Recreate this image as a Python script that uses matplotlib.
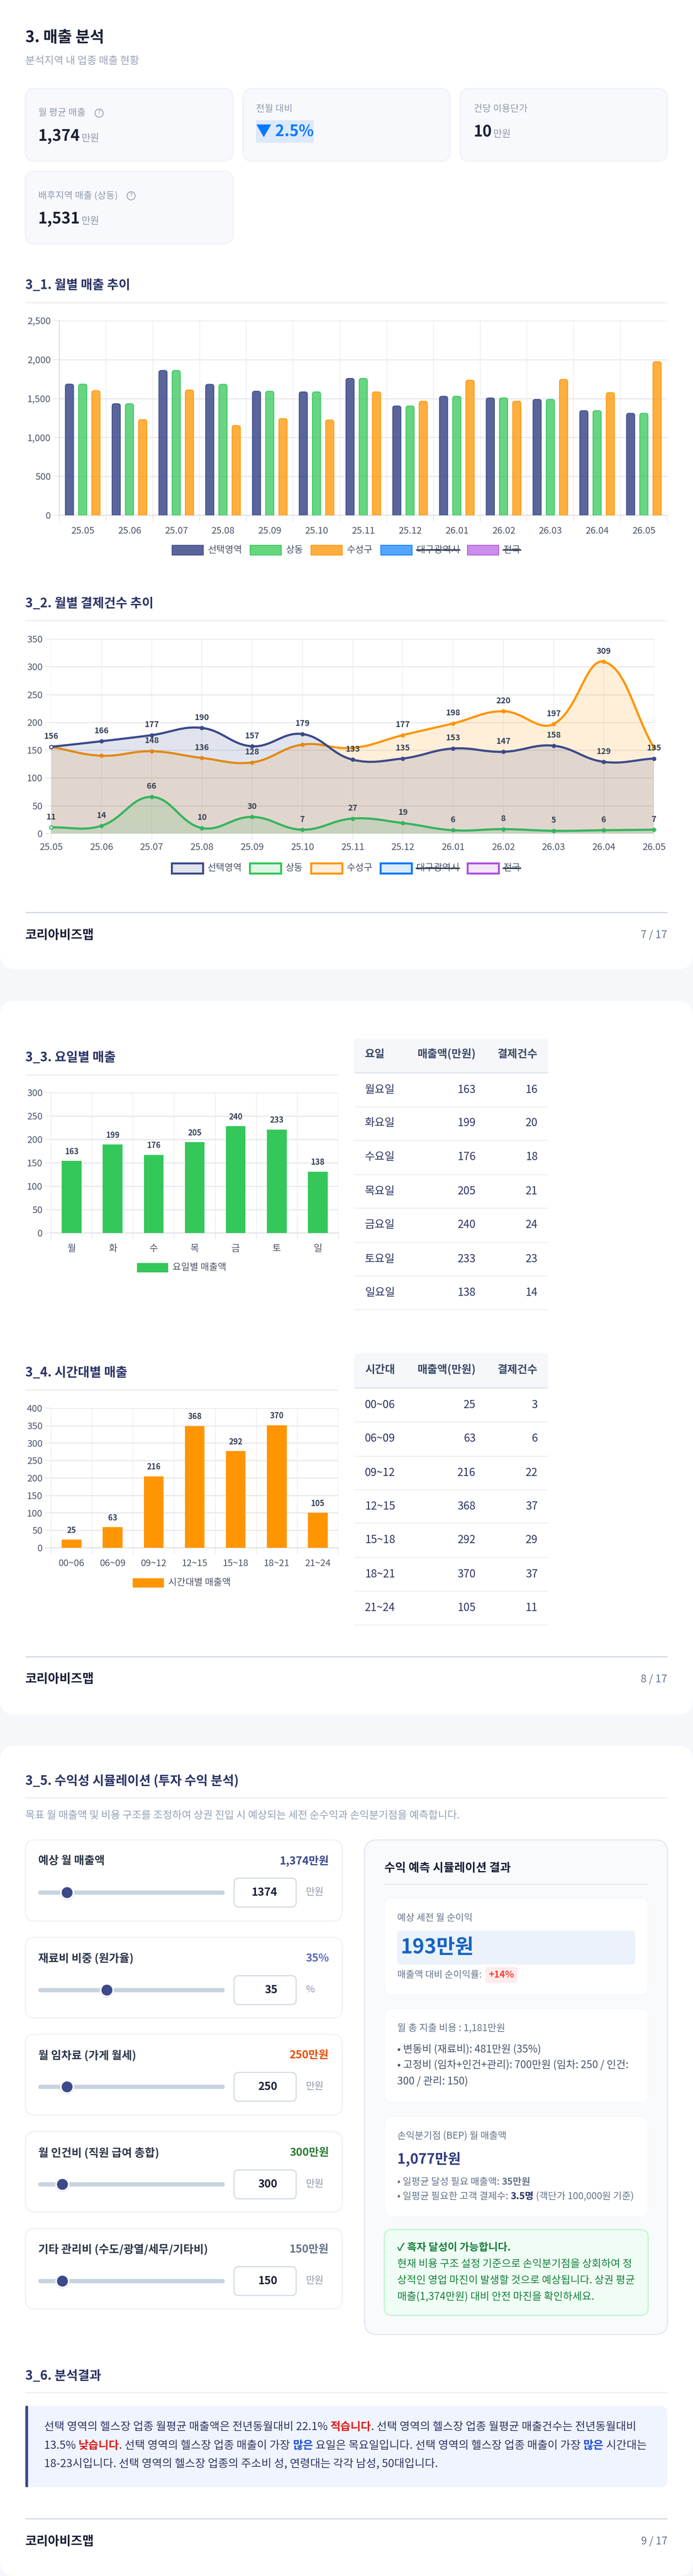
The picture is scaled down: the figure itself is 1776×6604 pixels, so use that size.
#!/usr/bin/python3

import matplotlib
matplotlib.use('Agg')

import matplotlib.pyplot as plt
import numpy as np
from matplotlib.patches import Circle, FancyBboxPatch, PathPatch, Rectangle
from matplotlib.path import Path

plt.rcParams['font.family'] = ['Noto Sans CJK KR', 'DejaVu Sans']

W, H = 1776, 6604

# ---- data
months = ['25.05', '25.06', '25.07', '25.08', '25.09', '25.10', '25.11',
          '25.12', '26.01', '26.02', '26.03', '26.04', '26.05']
sales_area = [1685, 1433, 1860, 1682, 1593, 1585, 1758, 1404, 1528, 1507, 1488, 1344, 1310]
sales_dong = [1685, 1433, 1860, 1682, 1593, 1585, 1758, 1404, 1528, 1507, 1488, 1344, 1310]
sales_gu = [1601, 1229, 1609, 1153, 1242, 1224, 1585, 1465, 1735, 1465, 1745, 1575, 1973]

tx_area = [156, 166, 177, 190, 157, 179, 133, 135, 153, 147, 158, 129, 135]
tx_dong = [11, 14, 66, 10, 30, 7, 27, 19, 6, 8, 5, 6, 7]
tx_gu = [156, 140, 148, 136, 128, 160, 154, 177, 198, 220, 197, 309, 154]
# the labels of the third series that are actually shown
tx_gu_shown = [None, None, 148, 136, 128, None, None, 177, 198, 220, 197, 309, None]

legend_names = ['선택영역', '상동', '수성구', '대구광역시', '전국']
legend_colors = ['#3C4A8A', '#34C759', '#FF9500', '#007AFF', '#AF52DE']

days = ['월', '화', '수', '목', '금', '토', '일']
day_names = ['월요일', '화요일', '수요일', '목요일', '금요일', '토요일', '일요일']
day_sales = [163, 199, 176, 205, 240, 233, 138]
day_bars = [154, 189, 167, 194, 228, 221, 131]  # bars stop short of their labels in the picture
day_count = [16, 20, 18, 21, 24, 23, 14]

hours = ['00~06', '06~09', '09~12', '12~15', '15~18', '18~21', '21~24']
hour_sales = [25, 63, 216, 368, 292, 370, 105]
hour_bars = [23, 59, 205, 349, 277, 351, 100]
hour_count = [3, 6, 22, 37, 29, 37, 11]

NAVY = '#3C4A8A'
INK = '#1A2035'
HEAD = '#2B3467'
GREY = '#8F98AB'
RULE = '#F0F1F6'
GRID = '#E9E9ED'

fig = plt.figure(figsize=(W / 100, H / 100), dpi=100, facecolor='#F5F7FB')
page = fig.add_axes([0, 0, 1, 1])
page.set_xlim(0, W)
page.set_ylim(H, 0)
page.axis('off')
renderer = fig.canvas.get_renderer()


def pt(px):
    return px * 0.72


def box(x0, y0, x1, y1, r=0, fc='white', ec='none', lw=0, z=1):
    if r:
        p = FancyBboxPatch((x0, y0), x1 - x0, y1 - y0, boxstyle='round,pad=0,rounding_size={}'.format(r),
                           fc=fc, ec=ec, lw=pt(lw), zorder=z)
    else:
        p = Rectangle((x0, y0), x1 - x0, y1 - y0, fc=fc, ec=ec, lw=pt(lw), zorder=z)
    page.add_patch(p)


def txt(x, y, s, px, color=INK, bold=False, ha='left', z=5):
    return page.text(x, y, s, fontsize=pt(px), color=color, ha=ha, va='center',
                     fontweight='bold' if bold else 'normal', zorder=z)


def width(s, px, bold=False):
    # dots on both sides so that leading and trailing spaces are counted
    a = txt(0, 0, '.' + s + '.', px, bold=bold)
    b = txt(0, 0, '..', px, bold=bold)
    w = a.get_window_extent(renderer).width - b.get_window_extent(renderer).width
    a.remove()
    b.remove()
    return w


def rich(x, y, parts, px):
    for s, color, bold in parts:
        txt(x, y, s, px, color, bold)
        x += width(s, px, bold)
    return x


def rule(y, x0=65, x1=1710, color=RULE, lw=4):
    page.plot([x0, x1], [y, y], color=color, lw=pt(lw), solid_capstyle='butt', zorder=3)


def footer(y_rule, y_text, label):
    rule(y_rule, color='#D0D7E5', lw=3)
    txt(65, y_text, '코리아비즈맵', 32, INK, True)
    txt(1710, y_text, label, 27, '#64748B', ha='right')


def axes_px(x0, y0, x1, y1):
    ax = fig.add_axes([x0 / W, 1 - y1 / H, (x1 - x0) / W, (y1 - y0) / H])
    ax.patch.set_alpha(0)
    ax.set_zorder(2)
    ax.set_axisbelow(True)
    for side in ('top', 'right'):
        ax.spines[side].set_visible(False)
    for side in ('left', 'bottom'):
        ax.spines[side].set_color('#DDDDE2')
        ax.spines[side].set_linewidth(pt(2.5))
    ax.grid(axis='y', color=GRID, lw=pt(3))
    ax.grid(axis='x', color='#ECECF0', lw=pt(1.6))
    ax.tick_params(axis='both', which='major', length=pt(16), width=pt(2), color=GRID,
                   labelsize=pt(24), labelcolor='#4A5568')
    ax.tick_params(axis='y', pad=pt(6))
    return ax


def category_axis(ax, labels):
    # gridlines sit between the categories, labels in the middle
    n = len(labels)
    ax.set_xlim(-0.5, n - 0.5)
    ax.set_xticks(np.arange(n + 1) - 0.5)
    ax.set_xticklabels([])
    ax.set_xticks(np.arange(n), labels, minor=True)
    ax.tick_params(axis='x', which='minor', length=0, pad=pt(29), labelsize=pt(24), labelcolor='#4A5568')


def legend_row(xs, ys, ws, names, colors, fills, edge, strike):
    for x, w, name, color, fill, crossed in zip(xs, ws, names, colors, fills, strike):
        box(x, ys[0], x + 80, ys[1], fc=fill, ec=color, lw=edge, z=3)
        tx = x + 92
        txt(tx, (ys[0] + ys[1]) / 2, name, 24, '#4A5568')
        if crossed:
            y = (ys[0] + ys[1]) / 2
            page.plot([tx, tx + w], [y, y], color='#2F3B52', lw=pt(3.5), zorder=6)


def round_top(ax, x0, x1, h, r_x, r_y, **kw):
    verts = [(x0, 0), (x0, h - r_y), (x0, h), (x0 + r_x, h), (x1 - r_x, h), (x1, h), (x1, h - r_y), (x1, 0), (x0, 0)]
    codes = [Path.MOVETO, Path.LINETO, Path.CURVE3, Path.CURVE3, Path.LINETO, Path.CURVE3, Path.CURVE3,
             Path.LINETO, Path.CLOSEPOLY]
    ax.add_patch(PathPatch(Path(verts, codes), **kw))


def spline(xs, ys, sx, sy, tension=0.4):
    # chart.js style control points, worked out in pixel space
    px = np.column_stack([np.asarray(xs, float) * sx, np.asarray(ys, float) * sy])
    n = len(px)
    verts = [px[0]]
    codes = [Path.MOVETO]
    before, after = [], []
    for i in range(n):
        a = px[max(i - 1, 0)]
        b = px[i]
        c = px[min(i + 1, n - 1)]
        d01 = np.hypot(*(b - a))
        d12 = np.hypot(*(c - b))
        total = d01 + d12
        before.append(b - tension * d01 / total * (c - a))
        after.append(b + tension * d12 / total * (c - a))
    for i in range(n - 1):
        verts += [after[i], before[i + 1], px[i + 1]]
        codes += [Path.CURVE4] * 3
    verts = np.array(verts) / [sx, sy]
    verts[:, 1] = np.clip(verts[:, 1], 0, None)
    return verts, codes


# ---- page cards
box(0, -60, W, 2485, 40)
box(0, 2566, W, 4396, 40)
box(0, 4475, W, 6604, 40)

# ---- page 7: header and kpi cards
txt(65, 97, '3. 매출 분석', 40, INK, True)
txt(65, 156, '분석지역 내 업종 매출 현황', 26.5, '#9AA3B5')

CARD = '#F8F9FD'
for x0, x1, y0, y1 in [(65, 597, 227, 413), (623, 1153, 227, 413), (1179, 1710, 227, 413), (65, 597, 439, 625)]:
    box(x0, y0, x1, y1, 24, CARD, RULE, 3)


def kpi(x, y_label, y_value, label, value, unit, help_x=None):
    txt(x, y_label, label, 24, GREY)
    if help_x:
        page.add_patch(Circle((help_x, y_label + 1), 10.5, fc='none', ec=GREY, lw=pt(2), zorder=5))
        txt(help_x, y_label, '?', 15, GREY, ha='center')
    end = x + width(value, 40, True)
    txt(x, y_value, value, 40, INK, True)
    txt(end + 3, y_value + 5, unit, 25, GREY)


kpi(98, 289, 350, '월 평균 매출', '1,374', '만원', 254)
kpi(1214, 279, 339, '건당 이용단가', '10', '만원')
kpi(98, 501, 562, '배후지역 매출 (상동)', '1,531', '만원', 336)
txt(656, 279, '전월 대비', 24, GREY)
box(656, 308, 804, 366, fc='#DDE9FB', z=3)
txt(656, 338, '▼ 2.5%', 40, '#007AFF', True)

# ---- 3_1
txt(65, 732, '3_1. 월별 매출 추이', 32.5, HEAD, True)
rule(776)
ax = axes_px(152, 822, 1710, 1321)
category_axis(ax, months)
ax.get_xgridlines()[-1].set_visible(False)
ax.set_ylim(0, 2500)
ax.set_yticks([0, 500, 1000, 1500, 2000, 2500], ['0', '500', '1,000', '1,500', '2,000', '2,500'])
bar_w = 0.175
for values, off, color, alpha in [(sales_area, -0.283, NAVY, 0.85), (sales_dong, 0, '#34C759', 0.75),
                                  (sales_gu, 0.283, '#FF9500', 0.75)]:
    for i, v in enumerate(values):
        face = matplotlib.colors.to_rgba(color, alpha)
        round_top(ax, i + off - bar_w / 2, i + off + bar_w / 2, v, 0.05, 30,
                  fc=face, ec=color, lw=pt(2), zorder=3)
legend_row([441, 641, 797, 976, 1198], (1398, 1423), [110, 0, 0, 110, 44], legend_names, legend_colors,
           ['#5A659B', '#66D57E', '#FFAD3E', '#55A5FF', '#CB8EEA'], 2, [False, False, False, True, True])

# ---- 3_2
txt(65, 1548, '3_2. 월별 결제건수 추이', 32.5, HEAD, True)
rule(1591)
ax = axes_px(131, 1638, 1676, 2137)
ax.set_xlim(0, 12)
ax.set_ylim(0, 350)
ax.set_xticks(np.arange(13), months)
ax.set_yticks(np.arange(0, 351, 50))
ax.tick_params(axis='x', pad=pt(8))
ax.spines['bottom'].set_visible(False)
ax.spines['left'].set_visible(False)
sx = 1545 / 12
sy = 499 / 350
x = np.arange(13)
for values, color, z in [(tx_gu, '#FF9500', 3), (tx_dong, '#34C759', 4), (tx_area, NAVY, 5)]:
    verts, codes = spline(x, values, sx, sy)
    outline = np.vstack([verts, [[12, 0], [0, 0], verts[0]]])
    fill_codes = codes + [Path.LINETO, Path.LINETO, Path.CLOSEPOLY]
    ax.add_patch(PathPatch(Path(outline, fill_codes), fc=matplotlib.colors.to_rgba(color, 0.15), ec='none', zorder=z))
    ax.add_patch(PathPatch(Path(verts, codes), fc='none', ec=color, lw=pt(5.5), zorder=z))
    ax.plot(x[1:], values[1:], 'o', ms=pt(11), color=color, mec='none', zorder=z, clip_on=False)
    ax.plot(x[:1], values[:1], 'o', ms=pt(9), mfc='#EEF0F7', mec=color, mew=pt(2.5), zorder=z + 0.5, clip_on=False)

for values, z in [(tx_gu_shown, 8), (tx_dong, 8), (tx_area, 8)]:
    for i, v in enumerate(values):
        if v is None:
            continue
        ax.annotate(str(v), (i, v), xytext=(0, pt(27)), textcoords='offset points', ha='center', va='center',
                    fontsize=pt(21), fontweight='bold', color='#364258', zorder=z, annotation_clip=False)
legend_row([440, 640, 797, 975, 1198], (2213, 2239), [110, 0, 0, 110, 44], legend_names, legend_colors,
           ['#E1E4EF', '#E0F6E5', '#FFF0DC', '#D9EBFF', '#F3E5FA'], 5, [False, False, False, True, True])
footer(2339, 2398, '7 / 17')

# ---- page 8: weekday and hour


def sales_table(y_head0, y_head1, y_texts, y_lines, y_htext, first_col, names, sales, counts):
    box(908, y_head0, 1405, y_head1, fc='#F5F7FA', z=2)
    rule(y_head1 + 2, 908, 1405, '#E2E8F0', 4)
    txt(935, y_htext, first_col, 28, '#3D4B68', True)
    txt(1219, y_htext, '매출액(만원)', 28, '#3D4B68', True, ha='right')
    txt(1378, y_htext, '결제건수', 28, '#3D4B68', True, ha='right')
    for y, y_line, name, s, c in zip(y_texts, y_lines, names, sales, counts):
        txt(935, y, name, 28, '#2D3561')
        txt(1219, y, str(s), 28, '#2D3561', ha='right')
        txt(1378, y, str(c), 28, '#2D3561', ha='right')
        rule(y_line, 908, 1405, RULE, 3)


def simple_bars(box_px, labels, bars, shown, color, ymax, step):
    ax = axes_px(*box_px)
    category_axis(ax, labels)
    ax.spines['left'].set_color('#ECECF0')
    ax.spines['left'].set_linewidth(pt(1.6))
    ax.set_ylim(0, ymax)
    ax.set_yticks(np.arange(0, ymax + 1, step))
    ax.bar(np.arange(len(bars)), bars, width=0.48, color=color, zorder=3)
    for i, (b, s) in enumerate(zip(bars, shown)):
        ax.annotate(str(s), (i, b), xytext=(0, pt(24)), textcoords='offset points', ha='center', va='center',
                    fontsize=pt(20), fontweight='bold', color='#364258', zorder=8)


txt(65, 2712, '3_3. 요일별 매출', 32.5, HEAD, True)
rule(2756, 65, 867)
simple_bars((131, 2801, 867, 3161), days, day_bars, day_sales, '#34C759', 300, 50)
box(351, 3238, 431, 3262, fc='#34C759', z=3)
txt(442, 3250, '요일별 매출액', 24, '#4A5568')
sales_table(2662, 2748, [2794, 2879, 2966, 3054, 3140, 3228, 3314],
            [2837, 2923, 3011, 3097, 3185, 3271, 3357], 2703, '요일', day_names, day_sales, day_count)

txt(65, 3520, '3_4. 시간대별 매출', 32.5, HEAD, True)
rule(3564, 65, 867)
simple_bars((131, 3610, 867, 3968), hours, hour_bars, hour_sales, '#FF9500', 400, 50)
box(340, 4046, 420, 4070, fc='#FF9500', z=3)
txt(431, 4058, '시간대별 매출액', 24, '#4A5568')
sales_table(3470, 3556, [3602, 3688, 3776, 3862, 3948, 4036, 4122],
            [3645, 3733, 3819, 3904, 3992, 4079, 4165], 3512, '시간대', hours, hour_sales, hour_count)
footer(4247, 4305, '8 / 17')

# ---- page 9: simulation
txt(65, 4566, '3_5. 수익성 시뮬레이션 (투자 수익 분석)', 32.5, HEAD, True)
rule(4609)
txt(65, 4655, '목표 월 매출액 및 비용 구조를 조정하여 상권 진입 시 예상되는 세전 순수익과 손익분기점을 예측합니다.', 26.5, '#94A3B8')


def control(y0, y1, title, shown, shown_color, field, unit, thumb_x):
    box(65, y0, 877, y1, 24, 'white', RULE, 3)
    txt(98, y0 + 54, title, 28.5, '#2D3748', True)
    txt(843, y0 + 54, shown, 28, shown_color, True, ha='right')
    yc = y0 + 135
    box(98, yc - 5.5, 576, yc + 5.5, 5.5, '#C8D3E0', z=3)
    page.add_patch(Circle((thumb_x, yc + 1), 18.5, fc='#E4E7EE', ec='none', zorder=3))
    page.add_patch(Circle((thumb_x, yc), 17.5, fc='white', ec='none', zorder=4))
    page.add_patch(Circle((thumb_x, yc), 14, fc=NAVY, ec='none', zorder=5))
    box(600, yc - 37, 759, yc + 37, 12, 'white', '#CBD5E1', 2.5)
    txt(711, yc, field, 28, INK, True, ha='right')
    txt(784, yc - 1, unit, 25, GREY)


control(4717, 4925, '예상 월 매출액', '1,374만원', NAVY, '1374', '만원', 172)
control(4967, 5173, '재료비 비중 (원가율)', '35%', '#5C6BC0', '35', '%', 274)
control(5215, 5422, '월 임차료 (가게 월세)', '250만원', '#E65100', '250', '만원', 172)
control(5465, 5671, '월 인건비 (직원 급여 총합)', '300만원', '#2E7D32', '300', '만원', 160)
control(5713, 5919, '기타 관리비 (수도/광열/세무/기타비)', '150만원', '#64748B', '150', '만원', 160)

box(934, 4717, 1711, 5985, 32, '#F8FAFC', '#E2E8F0', 3)
txt(985, 4789, '수익 예측 시뮬레이션 결과', 30, INK, True)
rule(4831, 984, 1662, '#E2E8F0', 2.5)

box(985, 4866, 1661, 5114, 20, 'white', '#F4F6F9', 2, z=2)
txt(1018, 4917, '예상 세전 월 순이익', 24, '#64748B')
box(1018, 4950, 1628, 5036, 8, '#EBF2FB', z=3)
txt(1027, 4993, '193만원', 52, '#1565C0', True)
txt(1018, 5063, '매출액 대비 순이익률:', 24, '#64748B')
box(1244, 5042, 1326, 5084, 8, '#FFECEC', z=3)
txt(1285, 5063, '+14%', 24, '#FF3B30', True, ha='center')

box(985, 5149, 1661, 5390, 20, 'white', '#F4F6F9', 2, z=2)
txt(1018, 5200, '월 총 지출 비용 : 1,181만원', 24.6, '#64748B')
txt(1018, 5254, '• 변동비 (재료비): 481만원 (35%)', 26.5, '#475569')
txt(1018, 5294, '• 고정비 (임차+인건+관리): 700만원 (임차: 250 / 인건:', 26.5, '#475569')
txt(1018, 5336, '300 / 관리: 150)', 26.5, '#475569')

box(985, 5426, 1661, 5682, 20, 'white', '#F4F6F9', 2, z=2)
txt(1018, 5476, '손익분기점 (BEP) 월 매출액', 24.3, '#64748B')
txt(1018, 5536, '1,077만원', 36, '#2F3D7E', True)
rich(1018, 5594, [('• 일평균 달성 필요 매출액: ', '#64748B', False), ('35만원', '#64748B', True)], 24.4)
rich(1018, 5631, [('• 일평균 필요한 고객 결제수: ', '#64748B', False), ('3.5명', '#2B3467', True),
                  (' (객단가 100,000원 기준)', '#64748B', False)], 24.4)

box(985, 5716, 1661, 5936, 20, '#F0FDF4', '#BBF7D0', 3, z=2)
txt(1018, 5762, '✓ 흑자 달성이 가능합니다.', 26.7, '#15803D', True)
txt(1018, 5805, '현재 비용 구조 설정 기준으로 손익분기점을 상회하여 정', 26.5, '#15803D')
txt(1018, 5847, '상적인 영업 마진이 발생할 것으로 예상됩니다. 상권 평균', 26.5, '#15803D')
txt(1018, 5888, '매출(1,374만원) 대비 안전 마진을 확인하세요.', 26.5, '#15803D')

# ---- 3_6
txt(65, 6092, '3_6. 분석결과', 32.5, HEAD, True)
rule(6134)
box(65, 6168, 1710, 6376, 18, '#F0F4FF', z=2)
box(65, 6168, 90, 6376, fc='#F0F4FF', z=2)
box(65, 6168, 72, 6376, fc=NAVY, z=3)
BODY = '#2D3561'
RED = '#DC1C1C'
BLUE = '#1D4ED8'
rich(113, 6222, [('선택 영역의 헬스장 업종 월평균 매출액은 전년동월대비 22.1% ', BODY, False), ('적습니다', RED, True),
                 ('. 선택 영역의 헬스장 업종 월평균 매출건수는 전년동월대비', BODY, False)], 28.4)
rich(113, 6270, [('13.5% ', BODY, False), ('낮습니다', RED, True),
                 ('. 선택 영역의 헬스장 업종 매출이 가장 ', BODY, False), ('많은', BLUE, True),
                 (' 요일은 목요일입니다. 선택 영역의 헬스장 업종 매출이 가장 ', BODY, False), ('많은', BLUE, True),
                 (' 시간대는', BODY, False)], 28.4)
rich(113, 6318, [('18-23시입니다. 선택 영역의 헬스장 업종의 주소비 성, 연령대는 각각 남성, 50대입니다.', BODY, False)], 28.4)
footer(6457, 6516, '9 / 17')

plt.savefig('out.png', dpi=100, facecolor=fig.get_facecolor())
